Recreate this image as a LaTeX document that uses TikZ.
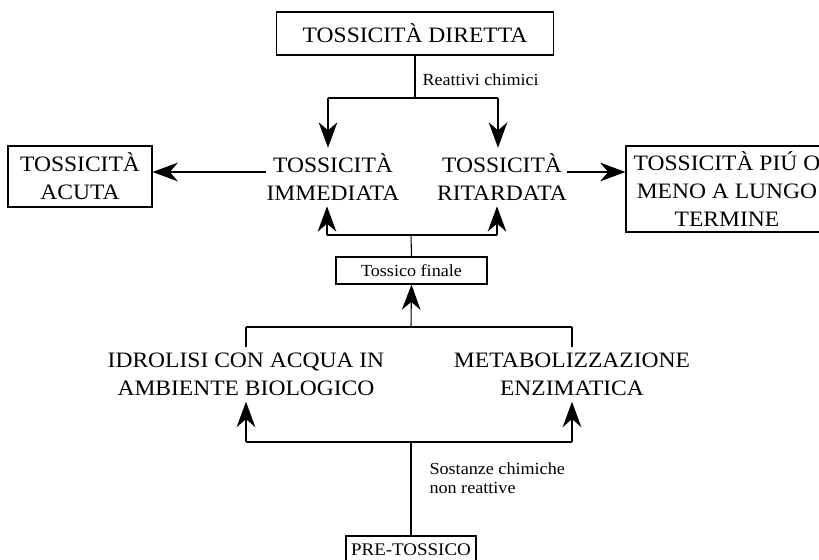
\documentclass[tikz,border=0pt]{standalone}
\usepackage{fontspec}
\setmainfont{Liberation Serif}[FakeStretch=1.07]
\usetikzlibrary{arrows.meta,positioning,calc}

\tikzset{
  bigtext/.style={font=\fontsize{16.5}{21}\selectfont, align=center},
  midtext/.style={font=\fontsize{13.3}{16}\selectfont},
  smalltext/.style={font=\fontsize{12.7}{14.25}\selectfont},
  boxed/.style={draw, line width=0.8pt, inner sep=1pt},
  plain/.style={inner xsep=0pt, inner ysep=4pt},
  tip/.style={-{Stealth[length=19pt,width=14pt,inset=6pt]}, line width=0.8pt},
}

\begin{document}
\begin{tikzpicture}[x=0.75pt,y=-0.75pt,line width=0.8pt]
\useasboundingbox (0,0) rectangle (819,560);
\clip (0,0) rectangle (819,560);

% boxes
\node[boxed,bigtext,minimum width=207.75pt,minimum height=32.25pt] (diretta) at (415,33.5) {TOSSICITÀ DIRETTA};
\node[boxed,bigtext,minimum width=108pt,minimum height=45.75pt] (acuta) at (80,176.5) {TOSSICITÀ\\ACUTA};
\node[boxed,bigtext,minimum width=151.5pt,minimum height=64.5pt] (lungo) at (727,189) {TOSSICITÀ PIÚ O\\MENO A LUNGO\\TERMINE};
\node[boxed,smalltext,minimum width=113.25pt,minimum height=20.25pt] (finale) at (411.5,270.5) {Tossico finale};
\node[boxed,midtext,minimum width=97.5pt,minimum height=21pt] (pre) at (411,550) {PRE-TOSSICO};

% plain texts
\node[plain,bigtext] (imm) at (333,177) {TOSSICITÀ\\IMMEDIATA};
\node[plain,bigtext] (rit) at (502,177) {TOSSICITÀ\\RITARDATA};
\node[plain,bigtext] (idr) at (246,374.5) {IDROLISI CON ACQUA IN\\AMBIENTE BIOLOGICO};
\node[plain,bigtext] (met) at (572,374.5) {METABOLIZZAZIONE\\ENZIMATICA};

% labels
\node[smalltext,inner sep=0pt,anchor=west] (reatt) at (422,80) {Reattivi chimici};
\node[smalltext,inner sep=0pt,anchor=west,align=left] (sost) at (429,478) {Sostanze chimiche\\non reattive};

% branch points
\coordinate (top) at (415,98);
\coordinate (topl) at (328,98);
\coordinate (topr) at (498,98);
\coordinate (midl) at (327,235);
\coordinate (midr) at (497,235);
\coordinate (mid) at (411,235);
\coordinate (low) at (411,327);
\coordinate (lowl) at (246,327);
\coordinate (lowr) at (572,327);
\coordinate (bot) at (411,442);
\coordinate (botl) at (246,442);
\coordinate (botr) at (572,442);

% upper part
\draw (diretta.south) -- (top);
\draw (topl) -- (topr);
\draw[tip] (topl) -- (topl |- imm.north);
\draw[tip] (topr) -- (topr |- rit.north);
\draw[tip] ([yshift=3.75pt]imm.west) -- ([yshift=3.75pt]imm.west -| acuta.east);
\draw[tip] ([yshift=3.75pt]rit.east) -- ([yshift=3.75pt]rit.east -| lungo.west);

% tossico finale
\draw (midl) -- (midr);
\draw[tip] (midl) -- (midl |- imm.south);
\draw[tip] (midr) -- (midr |- rit.south);
\draw (finale.north) -- (mid);
\draw[tip] (low) -- (finale.south);
\draw (lowl) -- (lowr);
\draw (lowl) -- (lowl |- idr.north);
\draw (lowr) -- (lowr |- met.north);

% pre-tossico
\draw (botl) -- (botr);
\draw[tip] (botl) -- (idr.south);
\draw[tip] (botr) -- (met.south);
\draw (pre.north) -- (bot);

\end{tikzpicture}
\end{document}
